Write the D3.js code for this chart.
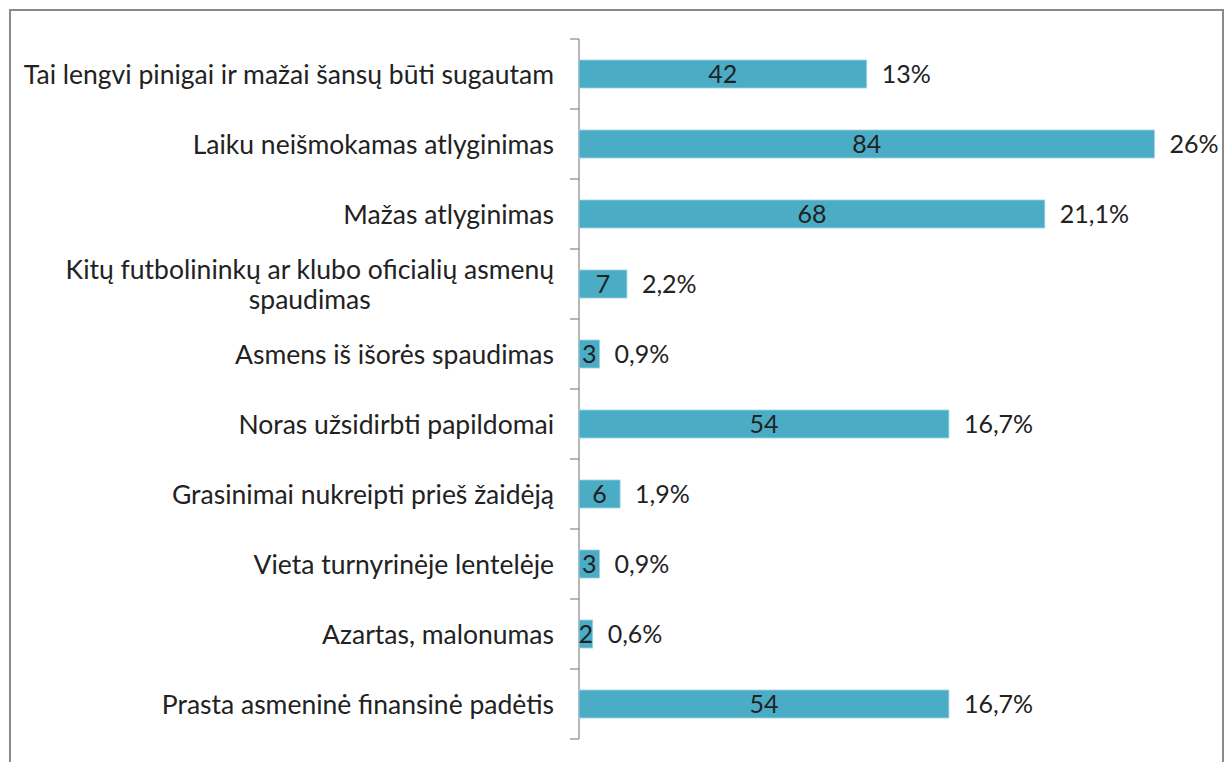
<!DOCTYPE html>
<html>
<head>
  <meta charset="utf-8">
  <script src="https://d3js.org/d3.v7.min.js"></script>
  <style type="text/css">
    body { margin: 0; background: #fff; }
    text { font-family: Lato, "Open Sans", sans-serif; fill: #222; }
  </style>
</head>
<body>
<div id="chart"></div>
<script>
    var width = 1227;
    var height = 762;

    // categories top to bottom, as in the picture
    var categories = [
      ["Tai lengvi pinigai ir mažai šansų būti sugautam"],
      ["Laiku neišmokamas atlyginimas"],
      ["Mažas atlyginimas"],
      ["Kitų futbolininkų ar klubo oficialių asmenų", "spaudimas"],
      ["Asmens iš išorės spaudimas"],
      ["Noras užsidirbti papildomai"],
      ["Grasinimai nukreipti prieš žaidėją"],
      ["Vieta turnyrinėje lentelėje"],
      ["Azartas, malonumas"],
      ["Prasta asmeninė finansinė padėtis"]
    ];
    var counts = [42, 84, 68, 7, 3, 54, 6, 3, 2, 54];
    var percents = ["13%", "26%", "21,1%", "2,2%", "0,9%", "16,7%", "1,9%", "0,9%", "0,6%", "16,7%"];

    var axisX = 579;
    var plotTop = 39, plotBottom = 739;

    var svg = d3.select("#chart")
                .append("svg")
                .attr("width", width)
                .attr("height", height);

    // chart frame
    svg.append("rect")
       .attr("x", 10).attr("y", 10)
       .attr("width", 1213).attr("height", 800)
       .attr("fill", "none")
       .attr("stroke", "#8a8a8a")
       .attr("stroke-width", 2);

    var x = d3.scaleLinear().domain([0, 90]).range([axisX, axisX + 90 * 6.85]);
    var y = d3.scaleBand().domain(d3.range(counts.length)).range([plotTop, plotBottom]).paddingInner(0.6).paddingOuter(0.3);

    // category axis with ticks between categories
    svg.append("line")
       .attr("x1", axisX).attr("x2", axisX)
       .attr("y1", plotTop).attr("y2", plotBottom)
       .attr("stroke", "#868686").attr("stroke-width", 1.2);
    var step = (plotBottom - plotTop) / counts.length;
    svg.selectAll(".tick")
       .data(d3.range(counts.length + 1))
       .enter().append("line")
       .attr("x1", axisX - 9).attr("x2", axisX)
       .attr("y1", function(d) { return plotTop + d * step; })
       .attr("y2", function(d) { return plotTop + d * step; })
       .attr("stroke", "#868686").attr("stroke-width", 1.2);

    svg.selectAll(".bar")
       .data(counts)
       .enter().append("rect")
       .attr("x", x(0))
       .attr("y", function(d, i) { return y(i); })
       .attr("width", function(d) { return x(d) - x(0); })
       .attr("height", y.bandwidth())
       .attr("fill", "#4bacc6")
       .attr("stroke", "#9fd3e2")
       .attr("stroke-width", 0.8);

    var fs = 25;
    var catFs = 26.5;

    // value inside bar
    svg.selectAll(".val")
       .data(counts)
       .enter().append("text")
       .attr("x", function(d) { return (x(0) + x(d)) / 2; })
       .attr("y", function(d, i) { return y(i) + y.bandwidth() / 2; })
       .attr("dy", "0.36em")
       .attr("text-anchor", "middle")
       .style("font-size", fs + "px")
       .text(function(d) { return d; });

    // percent after bar
    svg.selectAll(".pct")
       .data(percents)
       .enter().append("text")
       .attr("x", function(d, i) { return x(counts[i]) + 15; })
       .attr("y", function(d, i) { return y(i) + y.bandwidth() / 2; })
       .attr("dy", "0.36em")
       .style("font-size", fs + "px")
       .text(function(d) { return d; });

    // category labels, wrapped lines centred on each other, block right aligned
    var labelRight = 554;
    categories.forEach(function(lines, i) {
      var cy = y(i) + y.bandwidth() / 2;
      var g = svg.append("g");
      var texts = lines.map(function(line, j) {
        return g.append("text")
                .attr("y", cy + (j - (lines.length - 1) / 2) * 30)
                .attr("dy", "0.36em")
                .attr("text-anchor", "middle")
                .style("font-size", catFs + "px")
                .text(line);
      });
      var maxW = d3.max(texts, function(t) { return t.node().getComputedTextLength(); });
      texts.forEach(function(t) { t.attr("x", labelRight - maxW / 2); });
    });
</script>
</body>
</html>
